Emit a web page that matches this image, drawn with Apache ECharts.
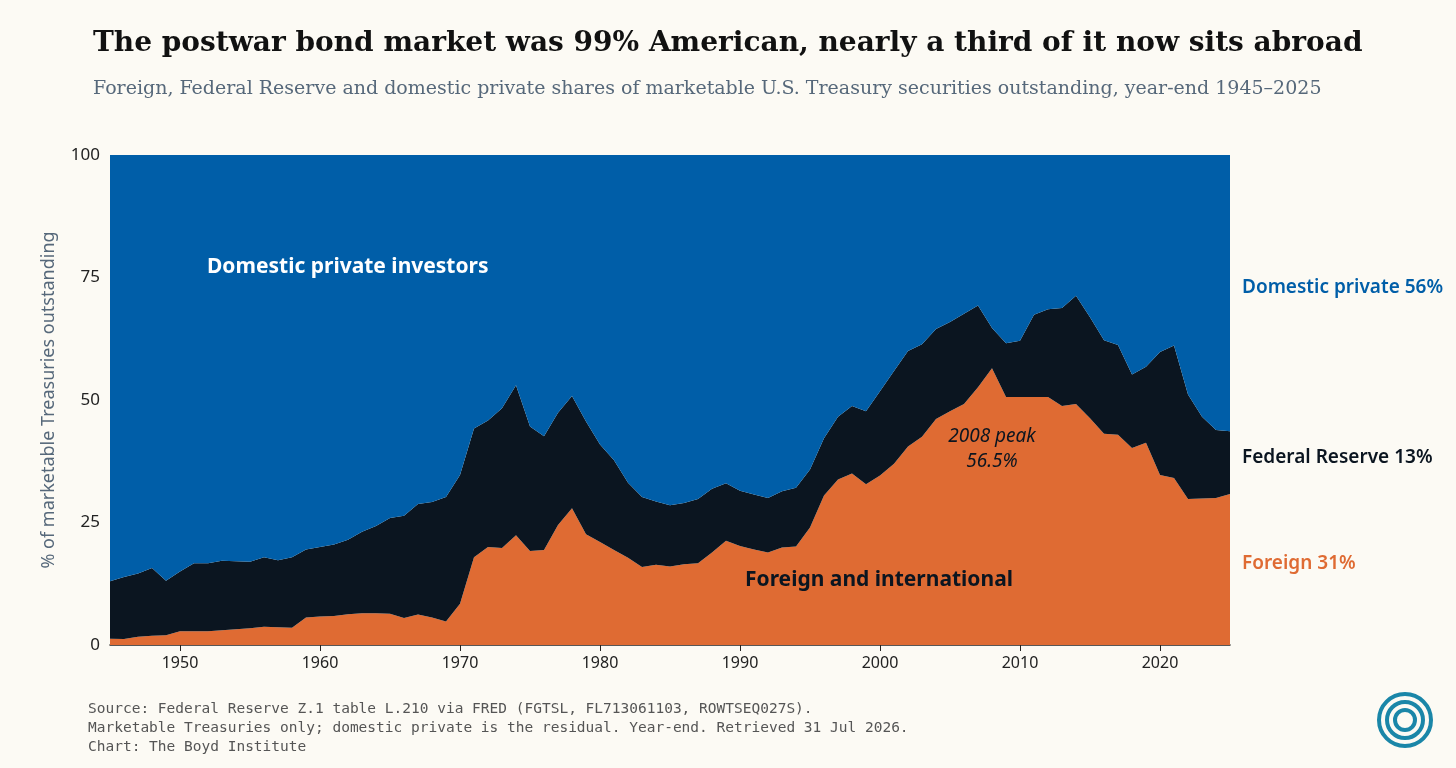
<!DOCTYPE html>
<html>
<head>
<meta charset="utf-8">
<title>Treasury holders</title>
<script src="https://cdn.jsdelivr.net/npm/echarts@6/dist/echarts.min.js"></script>
<style>
  html, body { margin: 0; padding: 0; background: #fcfaf4; }
  #chart { width: 1456px; height: 768px; }
</style>
</head>
<body>
<div id="chart"></div>
<script type="text/javascript">
    var chart = echarts.init(document.getElementById('chart'));

    // 年份 1945-2025
    var years = [];
    for (var y = 1945; y <= 2025; y++) years.push(String(y));

    // 外国持有比例 (%)
    var foreign = [1.3,1.2,1.7,1.9,2.0,2.8,2.8,2.8,3.0,3.2,3.4,3.7,3.6,3.5,5.6,5.8,5.9,6.3,6.5,6.5,
      6.4,5.5,6.2,5.6,4.8,8.4,17.9,20.0,19.8,22.4,19.2,19.4,24.5,27.9,22.6,21.0,19.4,17.8,15.9,16.4,
      16.0,16.5,16.7,18.9,21.3,20.2,19.5,18.9,19.9,20.1,24.0,30.5,33.8,35.0,32.8,34.6,37.0,40.5,42.5,46.1,
      47.7,49.2,52.6,56.5,50.6,50.6,50.6,50.6,48.8,49.2,46.3,43.1,42.9,40.2,41.3,34.7,34.1,29.8,29.9,30.0,30.8];
    // 外国 + 美联储 合计 (%)
    var total = [13.0,13.9,14.6,15.7,13.1,15.0,16.7,16.7,17.2,17.1,17.0,17.9,17.3,17.9,19.5,20.0,20.5,21.5,23.1,24.3,
      25.9,26.4,28.8,29.2,30.2,34.7,44.2,45.8,48.3,53.0,44.6,42.6,47.4,50.8,45.6,40.9,37.7,33.1,30.2,29.3,
      28.5,29.0,29.8,31.9,33.0,31.5,30.7,30.0,31.4,32.1,35.8,42.2,46.6,48.8,47.7,51.8,55.9,60.0,61.4,64.5,
      65.9,67.6,69.3,64.7,61.6,62.1,67.4,68.5,68.8,71.3,66.9,62.2,61.2,55.2,56.8,59.8,61.1,51.1,46.6,43.9,43.6];
    var fed = total.map(function (t, i) { return +(t - foreign[i]).toFixed(1); });
    var domestic = total.map(function (t) { return +(100 - t).toFixed(1); });

    var sans = 'Noto Sans';

    var option = {
      backgroundColor: '#fcfaf4',
      animation: false,
      title: [{
        text: 'The postwar bond market was 99% American, nearly a third of it now sits abroad',
        left: 88, top: 25,
        textStyle: { fontFamily: 'DejaVu Serif', fontWeight: 'bold', fontSize: 28, color: '#111' }
      }, {
        text: 'Foreign, Federal Reserve and domestic private shares of marketable U.S. Treasury securities outstanding, year-end 1945\u20132025',
        left: 88, top: 75,
        textStyle: { fontFamily: 'DejaVu Serif', fontWeight: 'normal', fontSize: 19, color: '#56687a' }
      }],
      grid: { left: 110, right: 226, top: 155, bottom: 123 },
      xAxis: {
        type: 'category',
        data: years,
        boundaryGap: false,
        axisLine: { lineStyle: { color: '#222', width: 1.5 } },
        axisTick: { alignWithLabel: true, length: 6, lineStyle: { color: '#222' },
          interval: function (i, v) { return +v % 10 === 0; } },
        axisLabel: { fontFamily: sans, fontSize: 16, color: '#222', margin: 10,
          interval: function (i, v) { return +v % 10 === 0; } }
      },
      yAxis: {
        type: 'value', min: 0, max: 100, interval: 25,
        name: '% of marketable Treasuries outstanding',
        nameLocation: 'middle', nameGap: 52, nameRotate: 90,
        nameTextStyle: { fontFamily: sans, fontSize: 18, color: '#56687a' },
        splitLine: { show: false },
        axisLine: { show: false },
        axisTick: { show: false },
        axisLabel: { fontFamily: sans, fontSize: 17, color: '#222', margin: 10 }
      },
      series: [
        { name: 'Foreign', type: 'line', stack: 'a', data: foreign, showSymbol: false,
          lineStyle: { width: 0 }, areaStyle: { color: '#df6b33', opacity: 1 } },
        { name: 'Federal Reserve', type: 'line', stack: 'a', data: fed, showSymbol: false,
          lineStyle: { width: 0 }, areaStyle: { color: '#0b1520', opacity: 1 } },
        { name: 'Domestic private', type: 'line', stack: 'a', data: domestic, showSymbol: false,
          lineStyle: { width: 0 }, areaStyle: { color: '#005ea8', opacity: 1 } }
      ],
      graphic: [
        { type: 'text', left: 207, top: 257, z: 100,
          style: { text: 'Domestic private investors', fill: '#fff', font: 'bold 21px "Noto Sans"' } },
        { type: 'text', left: 745, top: 570, z: 100,
          style: { text: 'Foreign and international', fill: '#0b1520', font: 'bold 21px "Noto Sans"' } },
        { type: 'text', x: 992, y: 424, z: 100,
          style: { text: '2008 peak\n56.5%', fill: '#0b1520', align: 'center', lineHeight: 25,
            font: 'italic 19px "Noto Sans"' } },
        { type: 'text', left: 1242, top: 278, z: 100,
          style: { text: 'Domestic private 56%', fill: '#005ea8', font: '600 19px "Noto Sans"' } },
        { type: 'text', left: 1242, top: 448, z: 100,
          style: { text: 'Federal Reserve 13%', fill: '#0b1520', font: '600 19px "Noto Sans"' } },
        { type: 'text', left: 1242, top: 554, z: 100,
          style: { text: 'Foreign 31%', fill: '#df6b33', font: '600 19px "Noto Sans"' } },
        { type: 'text', left: 88, top: 700, z: 100,
          style: { text: 'Source: Federal Reserve Z.1 table L.210 via FRED (FGTSL, FL713061103, ROWTSEQ027S).\nMarketable Treasuries only; domestic private is the residual. Year-end. Retrieved 31 Jul 2026.\nChart: The Boyd Institute',
            fill: '#555', lineHeight: 19, font: '14.5px "DejaVu Sans Mono"' } },
        // 标志
        { type: 'circle', shape: { cx: 1405, cy: 720, r: 26 }, style: { fill: 'none', stroke: '#1a86a8', lineWidth: 4 } },
        { type: 'circle', shape: { cx: 1405, cy: 720, r: 18 }, style: { fill: 'none', stroke: '#1a86a8', lineWidth: 4 } },
        { type: 'circle', shape: { cx: 1405, cy: 720, r: 10 }, style: { fill: 'none', stroke: '#1a86a8', lineWidth: 4 } }
      ]
    };

    chart.setOption(option);
</script>
</body>
</html>
